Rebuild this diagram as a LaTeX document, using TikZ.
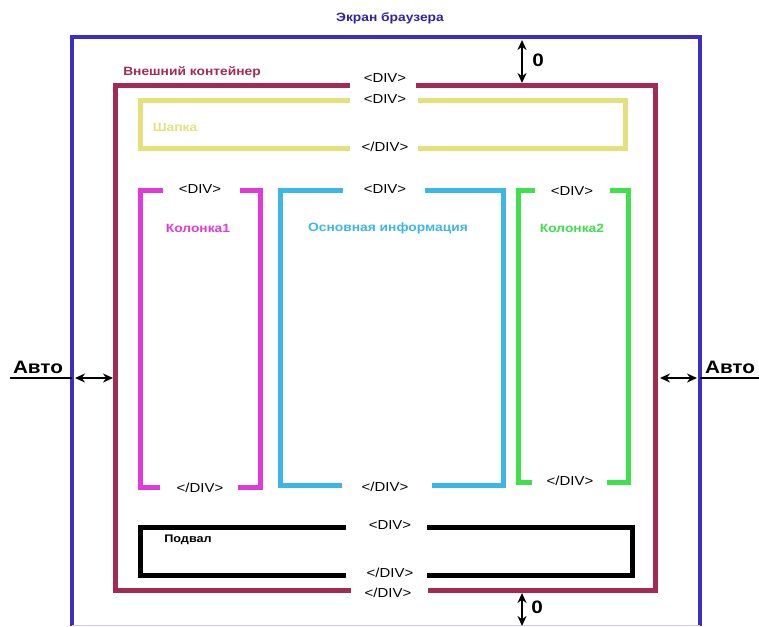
\documentclass[tikz,border=0pt]{standalone}
\usepackage{fontspec}
\setmainfont{Liberation Sans}[FakeStretch=1.15]
\usetikzlibrary{arrows.meta}

\definecolor{screenblue}{HTML}{3A2EC4}
\definecolor{screentext}{HTML}{2E22A6}
\definecolor{wrapred}{HTML}{A32A52}
\definecolor{headyellow}{HTML}{E4E07C}
\definecolor{colpink}{HTML}{E23AD8}
\definecolor{maincyan}{HTML}{3CB6E8}
\definecolor{colgreen}{HTML}{3EE04C}

\begin{document}
\begin{tikzpicture}[
        x=1pt, y=-1pt,
        tag/.style={font=\fontsize{13}{13}\selectfont, inner sep=0pt},
        title/.style={font=\bfseries\fontsize{12}{12}\selectfont, inner sep=0pt},
        boxline/.style={line width=5pt},
        gauge/.style={
            {Stealth[length=10pt,width=9pt]}-{Stealth[length=10pt,width=9pt]},
            line width=1.8pt
        },
        big/.style={font=\bfseries\fontsize{18}{18}\selectfont, inner sep=0pt}
    ]
    \useasboundingbox (0,0) rectangle (759,626);

    % browser screen
    \draw[line width=4pt, screenblue] (72,626) -- (72,37) -- (700,37) -- (700,626);
    \draw[line width=1pt, screenblue!25] (72,625) -- (700,625);
    \node[title, text=screentext] (screen) at (390,18) {Экран браузера};

    % outer container
    \node[title, text=wrapred] (wraplbl) at (192,72) {Внешний контейнер};
    \node[tag] (wrapopen) at (385,78) {<DIV>};
    \node[tag] (wrapclose) at (388,593) {</DIV>};
    \draw[boxline, wrapred] (350,85) -- (115,85) -- (115,590) -- (351,590);
    \draw[boxline, wrapred] (416,85) -- (655,85) -- (655,590) -- (428,590);

    % header
    \node[title, text=headyellow] (headlbl) at (175,127) {Шапка};
    \node[tag] (headopen) at (385,99) {<DIV>};
    \node[tag] (headclose) at (385,147) {</DIV>};
    \draw[boxline, headyellow] (350,100) -- (140,100) -- (140,148) -- (350,148);
    \draw[boxline, headyellow] (418,100) -- (625,100) -- (625,148) -- (418,148);

    % left column
    \node[title, text=colpink] (leftlbl) at (198,228) {Колонка1};
    \node[tag] (leftopen) at (200,189) {<DIV>};
    \node[tag] (leftclose) at (200,488) {</DIV>};
    \draw[boxline, colpink] (163,190) -- (140,190) -- (140,487) -- (160,487);
    \draw[boxline, colpink] (240,190) -- (260,190) -- (260,487) -- (238,487);

    % main content
    \node[title, text=maincyan] (mainlbl) at (388,228) {Основная информация};
    \node[tag] (mainopen) at (385,189) {<DIV>};
    \node[tag] (mainclose) at (385,487) {</DIV>};
    \draw[boxline, maincyan] (343,190) -- (280,190) -- (280,485) -- (342,485);
    \draw[boxline, maincyan] (425,190) -- (503,190) -- (503,485) -- (432,485);

    % right column
    \node[title, text=colgreen] (rightlbl) at (572,228) {Колонка2};
    \node[tag] (rightopen) at (572,191) {<DIV>};
    \node[tag] (rightclose) at (570,481) {</DIV>};
    \draw[boxline, colgreen] (535,190) -- (518,190) -- (518,482) -- (532,482);
    \draw[boxline, colgreen] (610,190) -- (628,190) -- (628,482) -- (607,482);

    % footer
    \node[title, text=black, font=\bfseries\fontsize{11}{11}\selectfont] (footlbl) at (188,540) {Подвал};
    \node[tag] (footopen) at (390,525) {<DIV>};
    \node[tag] (footclose) at (390,573) {</DIV>};
    \draw[boxline, black] (346,527) -- (140,527) -- (140,575) -- (346,575);
    \draw[boxline, black] (427,527) -- (632,527) -- (632,575) -- (427,575);

    % margins
    \coordinate (topscreen) at (522,40);
    \coordinate (topwrap) at (522,83);
    \coordinate (botwrap) at (522,593);
    \coordinate (botscreen) at (522,626);
    \draw[gauge] (topscreen) -- (topwrap);
    \draw[gauge] (botwrap) -- (botscreen);
    \node[big] (topzero) at (538,60) {0};
    \node[big] (botzero) at (537,607) {0};

    \node[big] (leftauto) at (38,367) {Авто};
    \node[big] (rightauto) at (730,367) {Авто};
    \coordinate (leftedge) at (10,378);
    \coordinate (leftscreen) at (72,378);
    \coordinate (leftwrap) at (113,378);
    \coordinate (rightwrap) at (660,378);
    \coordinate (rightscreen) at (700,378);
    \coordinate (rightedge) at (759,378);
    \draw[line width=2pt] (leftedge) -- (leftscreen);
    \draw[line width=2pt] (rightscreen) -- (rightedge);
    \draw[gauge] (75,378) -- (leftwrap);
    \draw[gauge] (rightwrap) -- (697,378);
\end{tikzpicture}
\end{document}
